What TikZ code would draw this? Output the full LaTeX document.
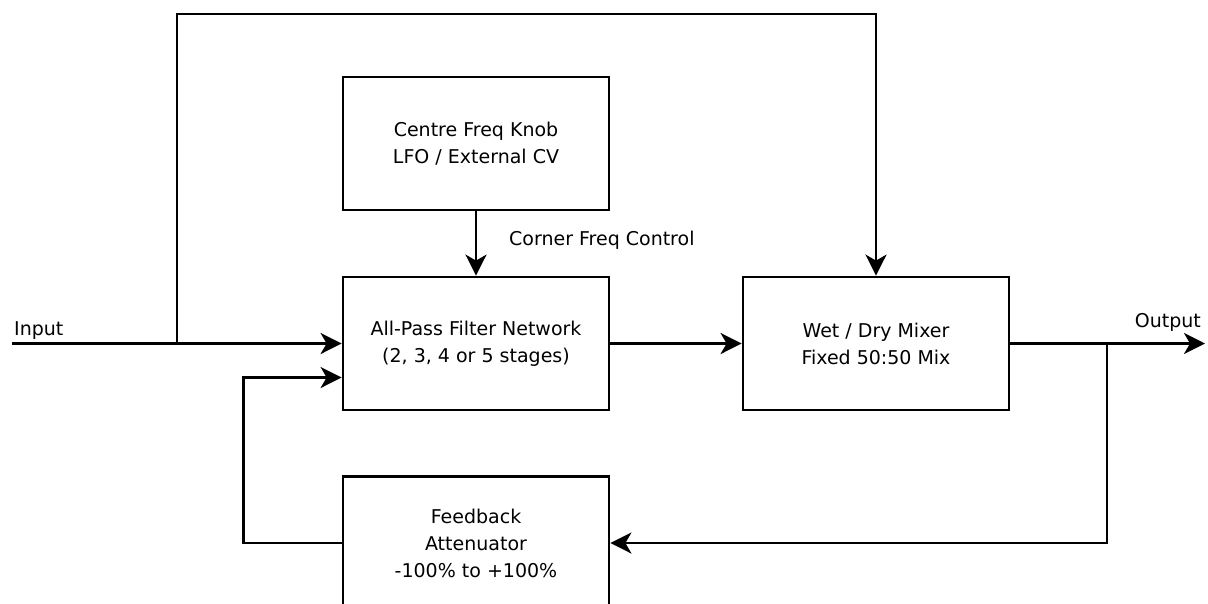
\documentclass[tikz,border=0pt]{standalone}
\usepackage{fontspec}
\setmainfont{DejaVu Sans}
\usetikzlibrary{arrows.meta}
\newcommand{\lblfont}{\fontsize{19}{27}\selectfont}
\tikzset{
  blk/.style={draw, line width=2.8pt, minimum width=266pt, minimum height=133pt, inner sep=0pt, align=center, font=\lblfont},
  wire/.style={line width=2.8pt},
  arr/.style={wire, -{Stealth[length=21pt,width=21pt,inset=6pt]}},
  txt/.style={inner sep=0pt, font=\lblfont}
}
\begin{document}
\begin{tikzpicture}[x=1pt,y=-1pt]
\useasboundingbox (0,0) rectangle (1208,603);
\node[blk] (cf)  at (476,143.5) {Centre Freq Knob\\LFO / External CV};
\node[blk] (apf) at (476,343.5) {All-Pass Filter Network\\(2, 3, 4 or 5 stages)};
\node[blk] (mix) at (876,343.5) {Wet / Dry Mixer\\Fixed 50:50 Mix};
\node[blk] (fb)  at (476,543) {Feedback\\Attenuator\\-100\% to +100\%};
\coordinate (in) at (12,343.5);
\coordinate (sp) at (177,343.5);
\coordinate (tl) at (177,14);
\coordinate (out) at (1205,343.5);
\coordinate (j) at (1107,343.5);
\coordinate (fbin) at ([yshift=-34pt]apf.west);
\node[txt, anchor=base west] (inlbl) at (14,335) {Input};
\node[txt, anchor=base east] (outlbl) at (1201,327) {Output};
\node[txt, anchor=base west] (cflbl) at (509,245) {Corner Freq Control};
\draw[arr] (in) -- (apf.west);
\draw[arr] (sp) -- (tl) -| (mix.north);
\draw[arr] (cf) -- (apf);
\draw[arr] (apf) -- (mix);
\draw[arr] (mix.east) -- (out);
\draw[arr] (j) |- (fb.east);
\draw[arr] (fb.west) -- ++(-98,0) |- (fbin);
\end{tikzpicture}
\end{document}
